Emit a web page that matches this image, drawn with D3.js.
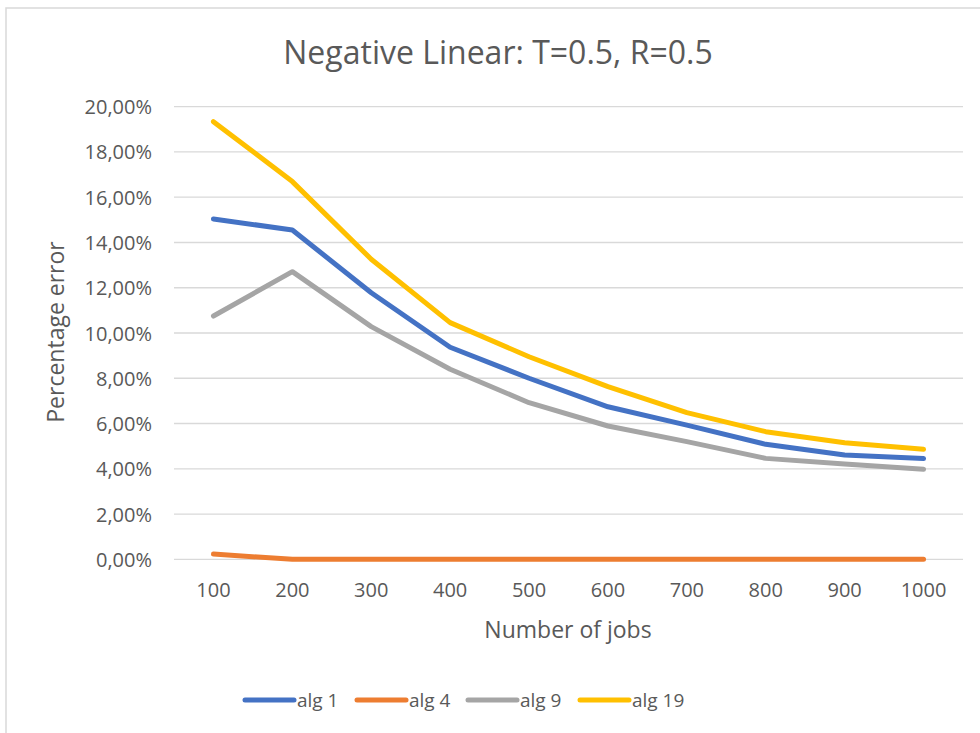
<!DOCTYPE html>
<html>
<head>
<meta charset="utf-8">
<script src="https://cdn.jsdelivr.net/npm/d3@7"></script>
<style>
  body { margin: 0; background: #fff; }
  text { font-family: "Open Sans", Lato, sans-serif; fill: #595959; }
</style>
</head>
<body>
<svg id="chart" width="980" height="733"></svg>
<script>
// chart data
var jobs = [100, 200, 300, 400, 500, 600, 700, 800, 900, 1000];
var alg1  = [15.04, 14.55, 11.78, 9.37, 8.00, 6.74, 5.93, 5.08, 4.61, 4.45];
var alg4  = [0.23, 0, 0, 0, 0, 0, 0, 0, 0, 0];
var alg9  = [10.75, 12.71, 10.28, 8.40, 6.92, 5.89, 5.20, 4.46, 4.21, 3.98];
var alg19 = [19.34, 16.69, 13.26, 10.46, 8.95, 7.63, 6.48, 5.64, 5.15, 4.86];
var seriesNames = ["alg 1", "alg 4", "alg 9", "alg 19"];
var yTicks = [0, 2, 4, 6, 8, 10, 12, 14, 16, 18, 20];

var colors = ["#4472c4", "#ed7d31", "#a5a5a5", "#ffc000"];
var series = [alg1, alg4, alg9, alg19].map(function(v, i){
  return {name: seriesNames[i], color: colors[i], values: v};
});

var svg = d3.select("#chart");

// outer frame (right / bottom edges fall outside the picture)
svg.append("rect")
  .attr("x", 6).attr("y", 8)
  .attr("width", 1000).attr("height", 800)
  .attr("fill", "none")
  .attr("stroke", "#d9d9d9")
  .attr("stroke-width", 1.5);

var plotLeft = 174, plotRight = 963
  , plotTop = 106.7, plotBottom = 559.3;

var x = d3.scaleBand()
  .domain(jobs)
  .range([plotLeft, plotRight])
  .padding(0);

var y = d3.scaleLinear()
  .domain([0, 20])
  .range([plotBottom, plotTop]);

// title
svg.append("text")
  .attr("x", 498).attr("y", 64)
  .attr("text-anchor", "middle")
  .style("font-size", "32px")
  .text("Negative Linear: T=0.5, R=0.5");

// gridlines
svg.append("g")
  .selectAll("line")
  .data(yTicks)
  .enter().append("line")
  .attr("x1", plotLeft).attr("x2", plotRight)
  .attr("y1", d => y(d)).attr("y2", d => y(d))
  .attr("stroke", "#d9d9d9")
  .attr("stroke-width", 1.3);

// y axis labels
var yAxis = svg.append("g")
  .attr("transform", "translate(" + (plotLeft - 12) + ",0)")
  .call(d3.axisLeft(y).tickValues(yTicks).tickSize(0)
    .tickFormat(d => d3.format(".2f")(d).replace(".", ",") + "%"));
yAxis.select(".domain").remove();
yAxis.selectAll("text")
  .attr("x", -10)
  .attr("dy", "0.35em")
  .style("font-size", "20px")
  .style("fill", "#595959")
  .style("font-family", "'Open Sans', sans-serif");

// x axis labels
var xAxis = svg.append("g")
  .attr("transform", "translate(0," + plotBottom + ")")
  .call(d3.axisBottom(x).tickSize(0));
xAxis.select(".domain").remove();
xAxis.selectAll("text")
  .attr("y", 38)
  .attr("dy", 0)
  .style("font-size", "20px")
  .style("fill", "#595959")
  .style("font-family", "'Open Sans', sans-serif");

// axis titles
svg.append("text")
  .attr("x", 568).attr("y", 638)
  .attr("text-anchor", "middle")
  .style("font-size", "23px")
  .text("Number of jobs");

svg.append("text")
  .attr("transform", "translate(64,332) rotate(-90)")
  .attr("text-anchor", "middle")
  .style("font-size", "23px")
  .text("Percentage error");

// lines
var line = d3.line()
  .x((d, i) => x(jobs[i]) + x.bandwidth() / 2)
  .y(d => y(d));

svg.append("g")
  .selectAll("path")
  .data(series)
  .enter().append("path")
  .attr("d", d => line(d.values))
  .attr("fill", "none")
  .attr("stroke", d => d.color)
  .attr("stroke-width", 5)
  .attr("stroke-linecap", "round")
  .attr("stroke-linejoin", "round");

// legend
var legendX = [245, 357, 468, 580];
var legend = svg.append("g")
  .selectAll("g")
  .data(series)
  .enter().append("g")
  .attr("transform", (d, i) => "translate(" + legendX[i] + ",700)");
legend.append("line")
  .attr("x1", 0).attr("x2", 49)
  .attr("stroke", d => d.color)
  .attr("stroke-width", 5)
  .attr("stroke-linecap", "round");
legend.append("text")
  .attr("x", 52).attr("y", 7)
  .style("font-size", "19px")
  .text(d => d.name);
</script>
</body>
</html>
